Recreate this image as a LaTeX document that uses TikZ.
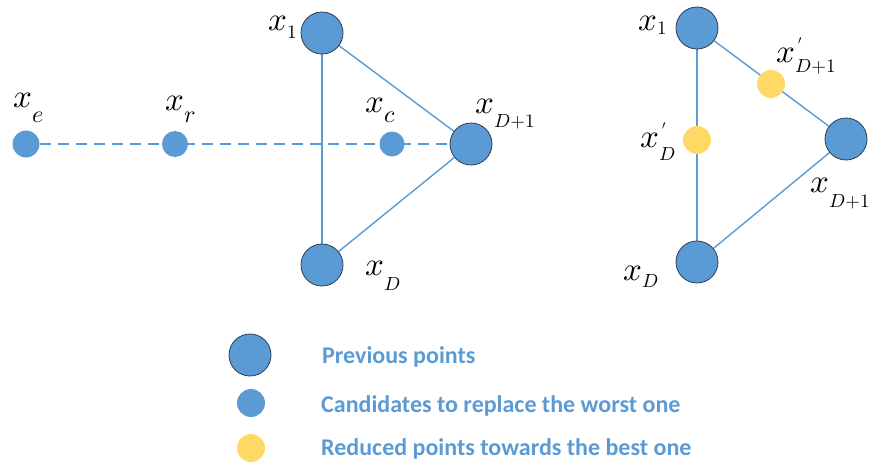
\documentclass[tikz,border=0pt]{standalone}
\usepackage{fontspec}
\newfontfamily\legfont{Carlito}
\definecolor{ptblue}{HTML}{5B9BD5}
\definecolor{ptyellow}{HTML}{FFD966}
\definecolor{ptedge}{HTML}{2E3B4E}
\pgfdeclarelayer{bg}
\pgfsetlayers{bg,main}
\newcommand\xsub[3][1.9]{\scalebox{3.3}{$x$}\raisebox{-#2pt}{\scalebox{#1}{$#3$}}}
\newcommand\xpsub[2]{\scalebox{3.3}{$x$}\rlap{\hspace{3pt}\raisebox{18pt}{\scalebox{1.2}{$\prime$}}}\raisebox{-#1pt}{\scalebox{1.9}{$#2$}}}
\tikzset{
  bigpt/.style={circle, minimum size=42pt, inner sep=0pt, fill=ptblue, draw=ptedge, line width=0.8pt},
  candpt/.style={circle, minimum size=#1, inner sep=0pt, fill=ptblue},
  redpt/.style={circle, minimum size=28pt, inner sep=0pt, fill=ptyellow},
  conn/.style={draw=ptblue, line width=1.4pt},
  dashconn/.style={draw=ptblue, line width=1.4pt, dash pattern=on 11pt off 7pt},
  lbl/.style={inner sep=0pt, anchor=base west},
  legtext/.style={inner sep=0pt, anchor=base west, text=ptblue, font=\legfont\bfseries\fontsize{24}{24}\selectfont}
}
\begin{document}
\begin{tikzpicture}[x=1pt,y=-1pt]
\useasboundingbox (0,0) rectangle (869,463);
% left figure
\node[bigpt] (A1) at (322,33) {};
\node[bigpt] (AD) at (322,265) {};
\node[bigpt] (AP) at (471,144) {};
\node[candpt=27pt] (E) at (26,144) {};
\node[candpt=26pt] (R) at (175,144) {};
\node[candpt=25pt] (C) at (392,144) {};
\begin{pgfonlayer}{bg}
\draw[conn] (A1) -- (AD);
\draw[conn] (A1) -- (AP);
\draw[conn] (AD) -- (AP);
\draw[dashconn] (E) -- (AP);
\end{pgfonlayer}
\node[lbl] (lx1) at (268,30) {\xsub{9}{1}};
\node[lbl] (le) at (13,107) {\xsub[2.4]{15}{e}};
\node[lbl] (lr) at (165,110) {\xsub[2.4]{12}{r}};
\node[lbl] (lc) at (365,112) {\xsub[2.4]{10}{c}};
\node[lbl] (lap) at (475,113) {\xsub{14}{D{+}1}};
\node[lbl] (lad) at (365,275) {\xsub{15}{D}};
% right figure
\node[bigpt] (B1) at (697,28) {};
\node[bigpt] (BD) at (697,262) {};
\node[bigpt] (BP) at (846,139) {};
\node[redpt] (YP) at (771,84) {};
\node[redpt] (YD) at (697,140) {};
\begin{pgfonlayer}{bg}
\draw[conn] (B1) -- (BD);
\draw[conn] (B1) -- (BP);
\draw[conn] (BD) -- (BP);
\end{pgfonlayer}
\node[lbl] (rx1) at (638,30) {\xsub{5}{1}};
\node[lbl] (ryp) at (776,62) {\xpsub{10}{D{+}1}};
\node[lbl] (ryd) at (640,147) {\xpsub{13}{D}};
\node[lbl] (rbp) at (810,192) {\xsub{15}{D{+}1}};
\node[lbl] (rbd) at (623,280) {\xsub{7}{D}};
% legend
\node[bigpt] (G1) at (250,355) {};
\node[candpt=28pt] (G2) at (251,403) {};
\node[redpt] (G3) at (251,448) {};
\node[legtext] (T1) at (322,363) {Previous points};
\node[legtext] (T2) at (321,412) {Candidates to replace the worst one};
\node[legtext] (T3) at (321,455) {Reduced points towards the best one};
\end{tikzpicture}
\end{document}
